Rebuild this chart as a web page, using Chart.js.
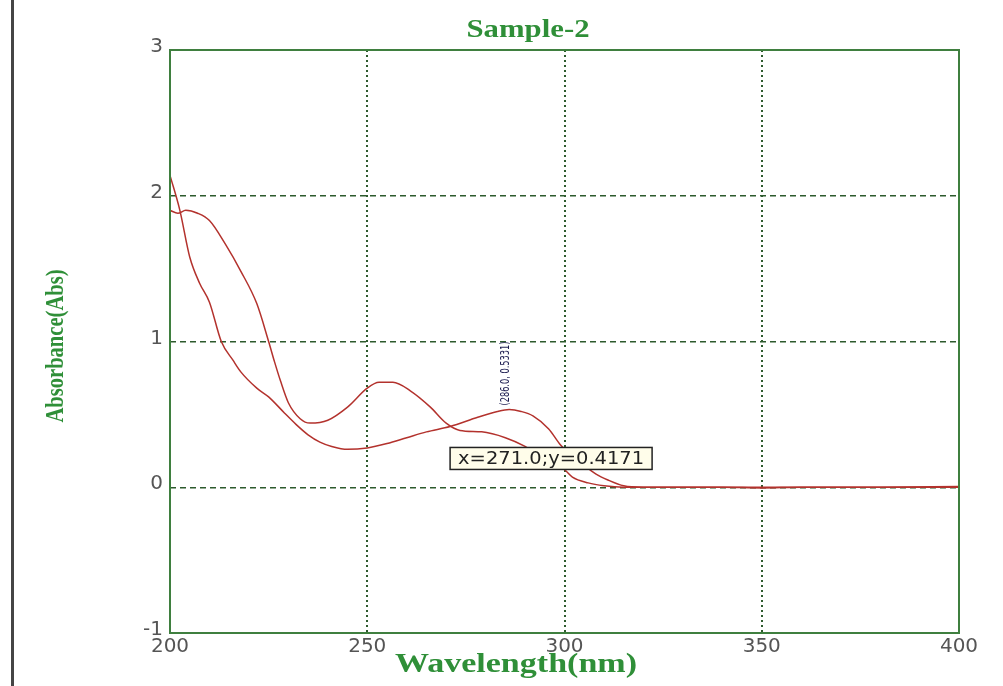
<!DOCTYPE html>
<html>
<head>
<meta charset="utf-8">
<script src="https://cdn.jsdelivr.net/npm/chart.js@4.4.0/dist/chart.umd.min.js"></script>
<style>
  html, body { margin: 0; padding: 0; background: #ffffff; }
  #wrap { width: 1003px; height: 686px; position: relative; }
</style>
</head>
<body>
<div id="wrap"><canvas id="spectrum"></canvas></div>
<script>
const wavelengthA = [200, 202.5, 205, 207.5, 210, 213, 216, 218, 222, 225, 229, 232, 235, 238, 241, 245, 250, 255, 260, 265, 271, 278, 283, 286, 289, 292, 296, 299, 302, 305, 308, 311, 315, 320, 330, 340, 350, 360, 380, 400];
const absorbanceA = [2.14, 1.90, 1.58, 1.40, 1.27, 1.0, 0.87, 0.79, 0.68, 0.62, 0.51, 0.43, 0.36, 0.31, 0.28, 0.26, 0.27, 0.30, 0.34, 0.38, 0.417, 0.48, 0.52, 0.533, 0.52, 0.49, 0.40, 0.29, 0.21, 0.15, 0.09, 0.05, 0.01, 0.0, 0.0, 0.0, -0.005, 0.0, 0.0, 0.005];

const wavelengthB = [200, 202, 204, 207, 210, 214, 218, 222, 225, 226.5, 228, 230, 233, 235.5, 240, 245, 250, 253, 256.5, 261, 266, 270, 273.5, 279, 285, 290, 295, 300, 302, 306, 310, 315, 330, 350, 370, 400];
const absorbanceB = [1.90, 1.88, 1.90, 1.88, 1.83, 1.67, 1.48, 1.26, 1.0, 0.86, 0.73, 0.58, 0.47, 0.44, 0.46, 0.55, 0.68, 0.72, 0.72, 0.66, 0.55, 0.44, 0.39, 0.38, 0.34, 0.28, 0.19, 0.12, 0.07, 0.03, 0.01, 0.0, 0.0, 0.0, 0.0, 0.0];

const xTicks = [200, 250, 300, 350, 400];
const yTicks = [-1, 0, 1, 2, 3];

const chartTitle = "Sample-2";
const xTitle = "Wavelength(nm)";
const yTitle = "Absorbance(Abs)";
const cursorPoint = [271.0, 0.4171];
const peakPoint = [286.0, 0.5331];

// Colores
const GREEN_TEXT = "#2f8f38";
const GREEN_FRAME = "#3f7f3f";
const GRID_COLOR = "#2d5a2d";
const CURVE_COLOR = "#b3322d";

function toPoints(xs, ys) {
  return xs.map((x, i) => ({ x: x, y: ys[i] }));
}

// Texto estirado a un ancho fijo
function fitText(ctx, text, cx, cy, width, font, color, rotate) {
  ctx.save();
  ctx.font = font;
  ctx.fillStyle = color;
  ctx.textAlign = "center";
  ctx.textBaseline = "middle";
  const w = ctx.measureText(text).width;
  ctx.translate(cx, cy);
  if (rotate) ctx.rotate(-Math.PI / 2);
  ctx.scale(width / w, 1);
  ctx.fillText(text, 0, 0);
  ctx.restore();
}

const decorPlugin = {
  id: "decor",
  beforeDraw(chart) {
    const ctx = chart.ctx;
    ctx.save();
    ctx.fillStyle = "#ffffff";
    ctx.fillRect(0, 0, chart.width, chart.height);
    // línea vertical a la izquierda
    ctx.fillStyle = "#454545";
    ctx.fillRect(11, 0, 3, chart.height);
    ctx.restore();
  },
  afterDatasetsDraw(chart) {
    const ctx = chart.ctx;
    const a = chart.chartArea;
    const xs = chart.scales.x;
    const ys = chart.scales.y;

    // marco del gráfico
    ctx.save();
    ctx.strokeStyle = GREEN_FRAME;
    ctx.lineWidth = 2;
    ctx.strokeRect(a.left, a.top, a.right - a.left, a.bottom - a.top);
    ctx.restore();

    // etiqueta del pico, rotada
    const px = xs.getPixelForValue(peakPoint[0]);
    const py = ys.getPixelForValue(peakPoint[1]);
    fitText(ctx, "(" + peakPoint[0].toFixed(1) + ", " + peakPoint[1].toFixed(4) + ")",
      px - 4, py - 36, 64, "13px 'DejaVu Sans Condensed', 'DejaVu Sans'", "#1c1c50", true);

    // caja del cursor
    const cx = xs.getPixelForValue(cursorPoint[0]);
    const cy = ys.getPixelForValue(cursorPoint[1]);
    const bx = cx, by = cy + 21, bw = 202, bh = 22;
    ctx.save();
    ctx.fillStyle = "#fffdea";
    ctx.fillRect(bx, by, bw, bh);
    ctx.strokeStyle = "#222222";
    ctx.lineWidth = 1.5;
    ctx.strokeRect(bx, by, bw, bh);
    ctx.restore();
    fitText(ctx, "x=" + cursorPoint[0].toFixed(1) + ";y=" + cursorPoint[1].toFixed(4),
      bx + bw / 2, by + bh / 2 + 1, 186, "18px 'DejaVu Sans'", "#222222", false);

    // títulos
    fitText(ctx, chartTitle, 528, 31, 123, "bold 25px 'Liberation Serif'", GREEN_TEXT, false);
    fitText(ctx, xTitle, 516, 665, 242, "bold 28px 'Liberation Serif'", GREEN_TEXT, false);
    fitText(ctx, yTitle, 56, 346, 153, "bold 26px 'Liberation Serif'", GREEN_TEXT, true);
  }
};

const ctx = document.getElementById("spectrum").getContext("2d");
const spectrumChart = new Chart(ctx, {
  type: "line",
  data: {
    datasets: [
      {
        data: toPoints(wavelengthA, absorbanceA),
        borderColor: CURVE_COLOR,
        borderWidth: 1.5,
        pointRadius: 0,
        fill: false,
        cubicInterpolationMode: "monotone",
      },
      {
        data: toPoints(wavelengthB, absorbanceB),
        borderColor: CURVE_COLOR,
        borderWidth: 1.5,
        pointRadius: 0,
        fill: false,
        cubicInterpolationMode: "monotone",
      },
    ],
  },
  options: {
    responsive: true,
    maintainAspectRatio: false,
    animation: false,
    layout: { padding: { left: 0, right: 44, top: 50, bottom: 0 } },
    plugins: {
      legend: { display: false },
      title: { display: false },
      tooltip: { enabled: false },
    },
    scales: {
      x: {
        type: "linear",
        min: 200,
        max: 400,
        afterBuildTicks: (scale) => { scale.ticks = xTicks.map((v) => ({ value: v })); },
        afterFit: (scale) => { scale.height = 53; },
        ticks: {
          color: "#555555",
          font: { family: "'DejaVu Sans'", size: 20 },
          padding: 2,
          maxRotation: 0,
        },
        grid: {
          drawTicks: false,
          lineWidth: 2,
          color: (c) => (c.tick && (c.tick.value === 200 || c.tick.value === 400) ? "rgba(0,0,0,0)" : GRID_COLOR),
        },
        border: { display: false, dash: [2, 3] },
      },
      y: {
        type: "linear",
        min: -1,
        max: 3,
        afterBuildTicks: (scale) => { scale.ticks = yTicks.map((v) => ({ value: v })); },
        afterFit: (scale) => { scale.width = 170; },
        ticks: {
          color: "#555555",
          font: { family: "'DejaVu Sans'", size: 20 },
          padding: 7,
          labelOffset: -3,
        },
        grid: {
          drawTicks: false,
          lineWidth: 1.5,
          color: (c) => (c.tick && (c.tick.value === -1 || c.tick.value === 3) ? "rgba(0,0,0,0)" : GRID_COLOR),
        },
        border: { display: false, dash: [6, 4] },
      },
    },
  },
  plugins: [decorPlugin],
});
</script>
</body>
</html>
